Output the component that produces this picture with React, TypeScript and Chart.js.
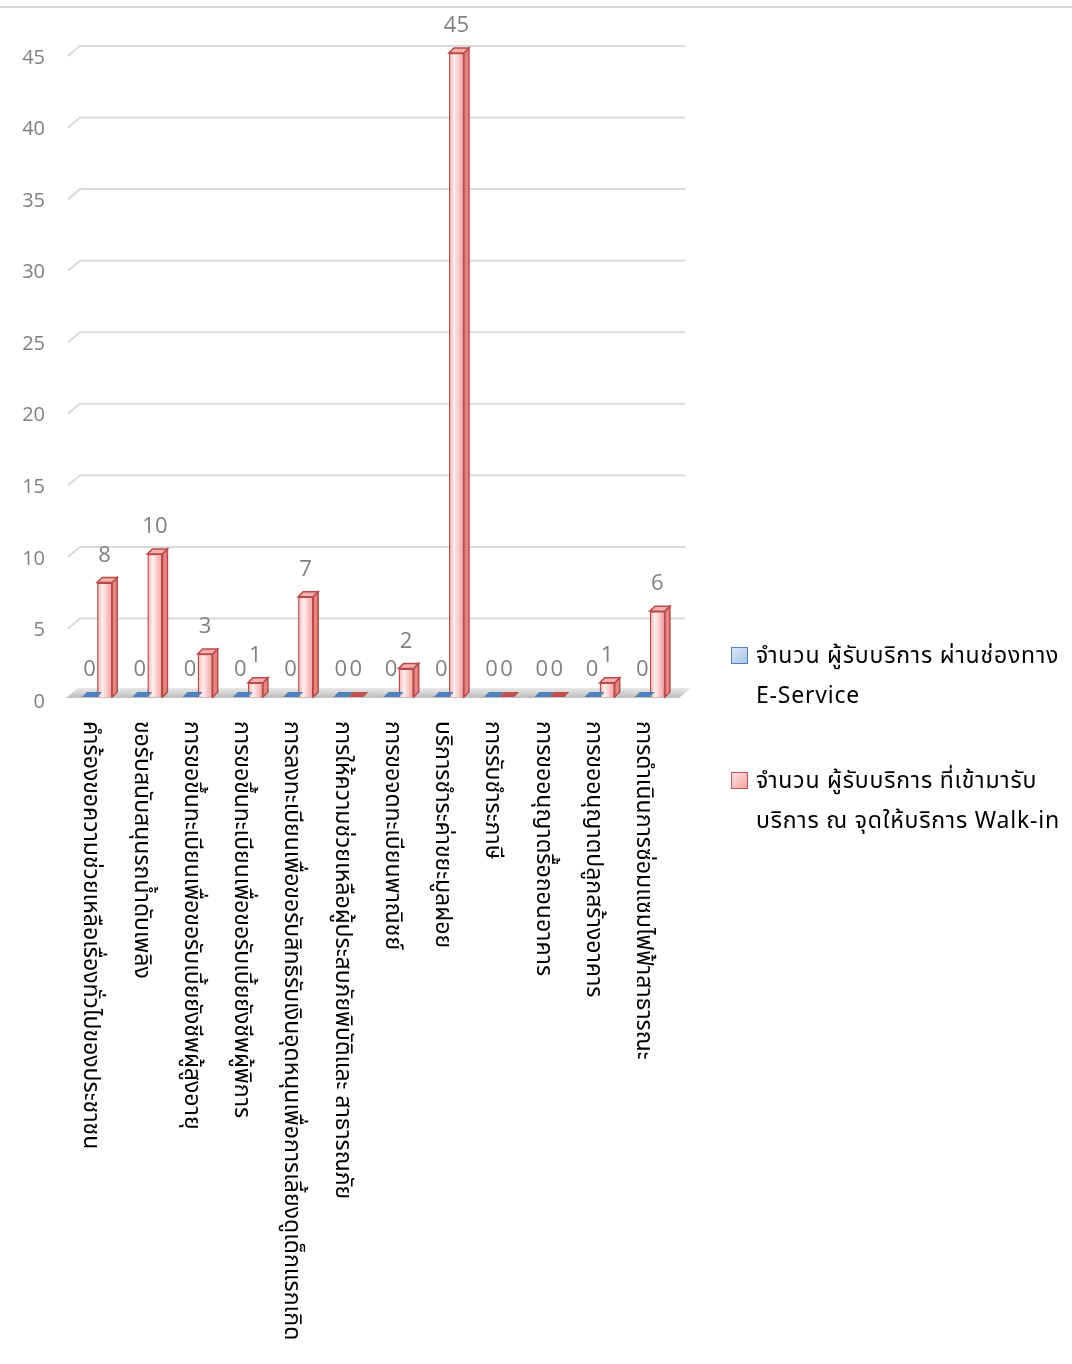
import React, { useEffect, useRef } from "react";
import { Chart, registerables } from "chart.js";

Chart.register(...registerables);

const categories = [
  "คำร้องขอความช่วยเหลือเรื่องทั่วไปของประชาชน",
  "ขอรับสนับสนุนรถน้ำดับเพลิง",
  "การขอขึ้นทะเบียนเพื่อขอรับเบี้ยยังชีพผู้สูงอายุ",
  "การขอขึ้นทะเบียนเพื่อขอรับเบี้ยยังชีพผู้พิการ",
  "การลงทะเบียนเพื่อขอรับสิทธิรับเงินอุดหนุนเพื่อการเลี้ยงดูเด็กแรกเกิด",
  "การให้ความช่วยเหลือผู้ประสบภัยพิบัติและ สาธารณภัย",
  "การขอจดทะเบียนพาณิชย์",
  "บริการชำระค่าขยะมูลฝอย",
  "การรับชำระภาษี",
  "การขออนุญาตรื้อถอนอาคาร",
  "การขออนุญาตปลูกสร้างอาคาร",
  "การดำเนินการซ่อมแซมไฟฟ้าสาธารณะ",
];
const eServiceValues = [0, 0, 0, 0, 0, 0, 0, 0, 0, 0, 0, 0];
const walkInValues = [8, 10, 3, 1, 7, 0, 2, 45, 0, 0, 1, 6];
const seriesNames = [
  ["จำนวน ผู้รับบริการ ผ่านช่องทาง", "E-Service"],
  ["จำนวน ผู้รับบริการ ที่เข้ามารับ", "บริการ ณ จุดให้บริการ Walk-in"],
];
const yMin = 0;
const yMax = 45;
const yStep = 5;

const THAI_FONT = "'Noto Sans Thai', 'Noto Sans Thai UI', Tahoma, 'Noto Sans', sans-serif";
const NUM_FONT = "'Open Sans', 'Noto Sans', sans-serif";
const DX = 12;
const DY = 10;

function redGradient(c: any) {
  const chart = c.chart;
  const xs = chart.scales && chart.scales.x;
  if (!xs || !chart.chartArea) return "#f6b3b3";
  const band = xs.width / categories.length;
  const center = xs.getPixelForValue(c.dataIndex);
  const left = center;
  const right = center + (band * 0.6) / 2;
  const g = chart.ctx.createLinearGradient(left, 0, right, 0);
  g.addColorStop(0, "#f4a9a8");
  g.addColorStop(0.35, "#fff0f0");
  g.addColorStop(1, "#f29a99");
  return g;
}

const decoPlugin = {
  id: "deco",
  beforeDatasetsDraw(chart: any) {
    const ctx = chart.ctx;
    const ys = chart.scales.y;
    const area = chart.chartArea;
    ctx.save();
    ctx.strokeStyle = "#d9d9d9";
    ctx.lineWidth = 2;
    ctx.beginPath();
    ctx.moveTo(0, 7);
    ctx.lineTo(chart.width, 7);
    ctx.stroke();
    for (let v = yMin + yStep; v <= yMax; v += yStep) {
      const y = ys.getPixelForValue(v) + 3;
      ctx.beginPath();
      ctx.moveTo(area.left - 4, y);
      ctx.lineTo(area.left - 4 + DX, y - DY);
      ctx.lineTo(area.right + DX - 2, y - DY);
      ctx.stroke();
    }
    const y0 = ys.getPixelForValue(0);
    const g = ctx.createLinearGradient(0, y0 - DY, 0, y0);
    g.addColorStop(0, "#eeeeee");
    g.addColorStop(1, "#bfbfbf");
    ctx.fillStyle = g;
    ctx.beginPath();
    ctx.moveTo(area.left - 6, y0 + 1);
    ctx.lineTo(area.right + 4, y0 + 1);
    ctx.lineTo(area.right + 4 + DX, y0 - DY + 1);
    ctx.lineTo(area.left - 6 + DX, y0 - DY + 1);
    ctx.closePath();
    ctx.fill();
    ctx.restore();
  },
  afterDatasetsDraw(chart: any) {
    const ctx = chart.ctx;
    ctx.save();
    const d = 5;
    chart.data.datasets.forEach((ds: any, di: number) => {
      const meta = chart.getDatasetMeta(di);
      meta.data.forEach((el: any, i: number) => {
        const v = ds.data[i];
        const w = el.width;
        const l = el.x - w / 2;
        const r = el.x + w / 2;
        if (v === 0) {
          ctx.fillStyle = di === 0 ? "#4f81bd" : "#c0504d";
          ctx.beginPath();
          ctx.moveTo(l, el.base);
          ctx.lineTo(r, el.base);
          ctx.lineTo(r + d, el.base - d);
          ctx.lineTo(l + d, el.base - d);
          ctx.closePath();
          ctx.fill();
        } else {
          ctx.fillStyle = "#e58584";
          ctx.strokeStyle = "#b94a47";
          ctx.lineWidth = 1.5;
          ctx.beginPath();
          ctx.moveTo(r, el.y);
          ctx.lineTo(r + d, el.y - d);
          ctx.lineTo(r + d, el.base - d);
          ctx.lineTo(r, el.base);
          ctx.closePath();
          ctx.fill();
          ctx.stroke();
          ctx.fillStyle = "#f3b0af";
          ctx.beginPath();
          ctx.moveTo(l, el.y);
          ctx.lineTo(l + d, el.y - d);
          ctx.lineTo(r + d, el.y - d);
          ctx.lineTo(r, el.y);
          ctx.closePath();
          ctx.fill();
          ctx.stroke();
        }
      });
    });
    ctx.fillStyle = "#808080";
    ctx.font = `22px ${NUM_FONT}`;
    ctx.textAlign = "center";
    ctx.textBaseline = "middle";
    chart.data.datasets.forEach((ds: any, di: number) => {
      const meta = chart.getDatasetMeta(di);
      meta.data.forEach((el: any, i: number) => {
        ctx.fillText(String(ds.data[i]), el.x, el.y - 27);
      });
    });
    const xs = chart.scales.x;
    ctx.fillStyle = "#000000";
    ctx.font = `23px ${THAI_FONT}`;
    ctx.textAlign = "left";
    ctx.textBaseline = "middle";
    categories.forEach((lab, i) => {
      const x = xs.getPixelForValue(i) - 8;
      ctx.save();
      ctx.translate(x, 721);
      ctx.rotate(Math.PI / 2);
      ctx.fillText(lab, 0, 0);
      ctx.restore();
    });
    ctx.restore();
  },
};

export default function App() {
  const ref = useRef<HTMLCanvasElement | null>(null);
  useEffect(() => {
    if (!ref.current) return;
    const chart = new Chart(ref.current, {
      type: "bar",
      data: {
        labels: categories,
        datasets: [
          {
            label: seriesNames[0].join(" "),
            data: eServiceValues,
            backgroundColor: "#4f81bd",
            borderColor: "#385d8a",
            borderWidth: 1.5,
          },
          {
            label: seriesNames[1].join(" "),
            data: walkInValues,
            backgroundColor: redGradient as any,
            borderColor: "#b94a47",
            borderWidth: 1.5,
          },
        ],
      },
      options: {
        responsive: false,
        animation: false,
        devicePixelRatio: 1,
        layout: { padding: { top: 53, right: 397, bottom: 667, left: 0 } },
        datasets: { bar: { categoryPercentage: 0.6, barPercentage: 1.0 } },
        plugins: { legend: { display: false }, tooltip: { enabled: false } },
        scales: {
          x: { display: false, type: "category", offset: true },
          y: {
            min: yMin,
            max: yMax,
            grid: { display: false },
            border: { display: false },
            ticks: {
              stepSize: yStep,
              color: "#808080",
              padding: 19,
              labelOffset: 5,
              font: { family: NUM_FONT, size: 20 },
            },
            afterFit: (s: any) => {
              s.width = 72;
            },
          },
        },
      },
      plugins: [decoPlugin],
    });
    chart.update();
    return () => chart.destroy();
  }, []);

  const legendBox = (fill: string, border: string) => ({
    position: "absolute" as const,
    left: 731,
    width: 15,
    height: 15,
    background: fill,
    border: `1.5px solid ${border}`,
  });
  const legendText = {
    position: "absolute" as const,
    left: 756,
    fontFamily: THAI_FONT,
    fontSize: 23,
    letterSpacing: "0.8px",
    lineHeight: "40px",
    color: "#000",
    whiteSpace: "nowrap" as const,
  };

  return (
    <div style={{ position: "absolute", left: 0, top: 0, width: 1072, height: 1364, background: "#fff" }}>
      <canvas ref={ref} width={1072} height={1364} style={{ display: "block" }} />
      <div style={{ ...legendBox("linear-gradient(135deg,#dbe6f4,#a9c3e6)", "#4f81bd"), top: 647 }} />
      <div style={{ ...legendText, top: 636 }}>
        {seriesNames[0][0]}
        <br />
        {seriesNames[0][1]}
      </div>
      <div style={{ ...legendBox("linear-gradient(135deg,#fde3e3,#f3a4a3)", "#c0504d"), top: 772 }} />
      <div style={{ ...legendText, top: 761 }}>
        {seriesNames[1][0]}
        <br />
        {seriesNames[1][1]}
      </div>
    </div>
  );
}
